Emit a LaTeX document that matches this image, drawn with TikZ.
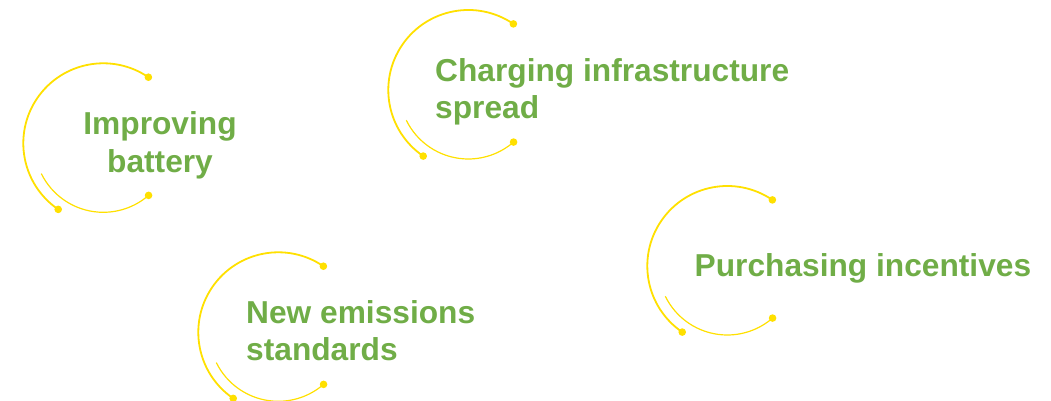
\documentclass[tikz,border=0pt]{standalone}
\usepackage{fontspec}
\setmainfont{Liberation Sans}
\usepackage{tikz}
\usetikzlibrary{positioning,calc}
\usepackage{xcolor}
\definecolor{evyellow}{HTML}{FFE000}
\definecolor{evgreen}{HTML}{70AD47}

\begin{document}
\begin{tikzpicture}[
  x=1pt, y=1pt,
  ring/.style={draw=evyellow, line width=1.8pt},
  innerring/.style={draw=evyellow, line width=1.2pt},
  dot/.style={fill=evyellow},
  driver/.style={inner sep=0pt, text=evgreen, font=\fontsize{31.7pt}{37.5pt}\selectfont\bfseries},
]
\useasboundingbox (0,0) rectangle (1051,401);

% Ring centres
\coordinate (c1) at (103.3,257.7);
\coordinate (c2) at (468.3,311);
\coordinate (c3) at (727.3,135);
\coordinate (c4) at (278.3,68.7);

% Rings with end dots
\foreach \c in {c1,c2,c3,c4} {
  \draw[ring] (\c) ++(55.7:80) arc[start angle=55.7, end angle=235.7, radius=80];
  \draw[innerring] (\c) ++(206:69) arc[start angle=206, end angle=311, radius=69];
  \fill[dot] (\c) ++(55.7:80) circle[radius=3.8];
  \fill[dot] (\c) ++(235.7:80) circle[radius=3.8];
  \fill[dot] (\c) ++(311:69) circle[radius=3.8];
}

% Labels (base = last line)
\node[driver, align=center, anchor=base] (battery) at (160,228.7) {Improving\\battery};
\node[driver, align=left, anchor=base west] (charging) at (435,282) {Charging infrastructure\\spread};
\node[driver, align=left, anchor=base west] (incentives) at (694.5,124) {Purchasing incentives};
\node[driver, align=left, anchor=base west] (standards) at (246,40) {New emissions\\standards};

\end{tikzpicture}
\end{document}
